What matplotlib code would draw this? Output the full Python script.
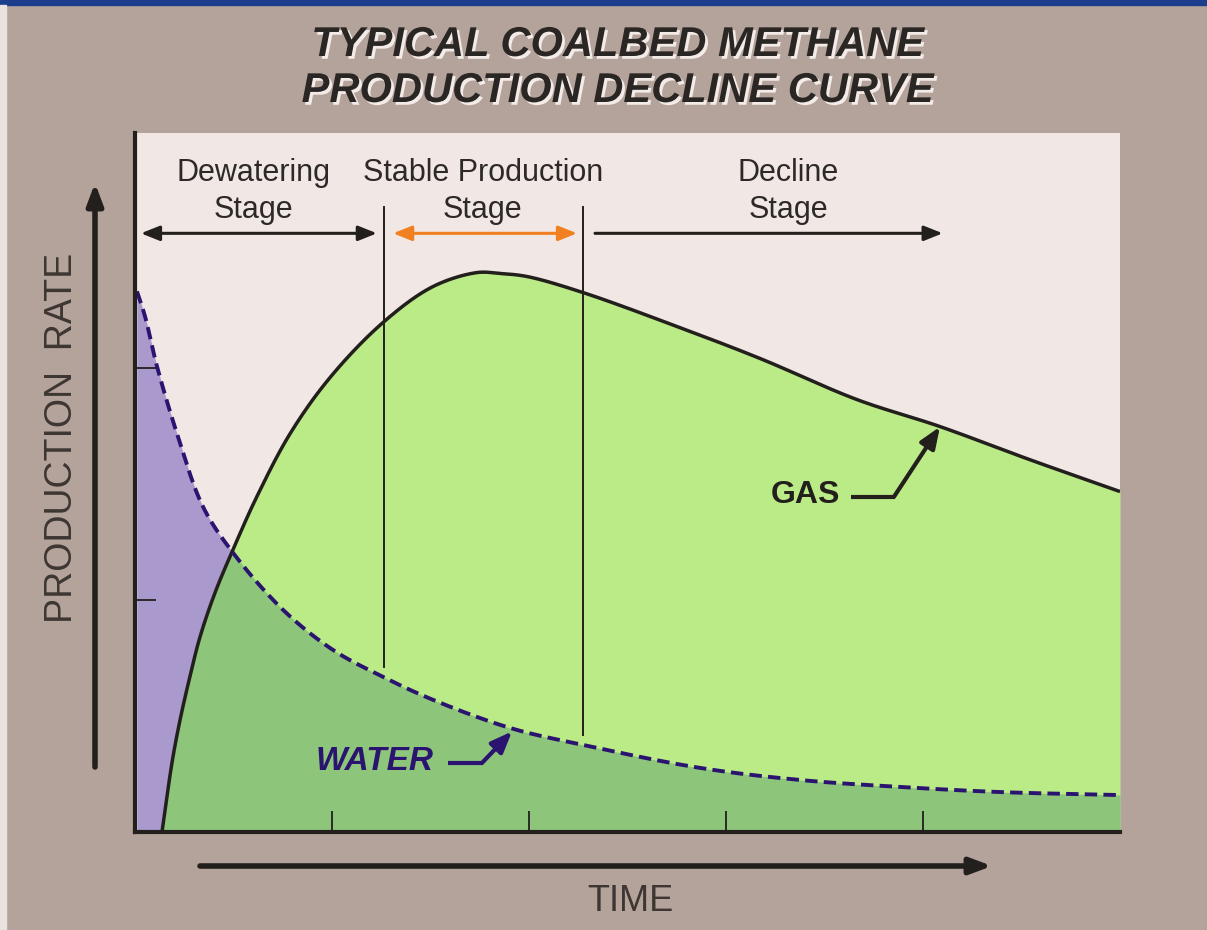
import matplotlib
matplotlib.use("Agg")
import matplotlib.pyplot as plt
import matplotlib.patheffects as pe
from matplotlib.patches import Rectangle
import numpy as np

# ---- data (x = time units, y = rate units) ----
gas_x = [0.137, 0.160, 0.190, 0.228, 0.279, 0.330, 0.406, 0.497, 0.619, 0.787,
         0.990, 1.259, 1.513, 1.736, 1.853, 1.990, 2.274, 2.766, 3.173, 3.665,
         4.086, 4.543, 5.0]
gas_y = [0.0, 0.14, 0.31, 0.48, 0.67, 0.84, 1.03, 1.215, 1.445, 1.715,
         1.957, 2.194, 2.349, 2.409, 2.405, 2.392, 2.323, 2.172, 2.039, 1.862,
         1.746, 1.603, 1.466]
water_x = [0.010, 0.051, 0.112, 0.218, 0.345, 0.497, 0.751, 1.005, 1.259, 1.513,
           1.904, 2.274, 2.868, 3.376, 3.883, 4.391, 5.0]
water_y = [2.328, 2.220, 2.004, 1.703, 1.401, 1.203, 0.957, 0.784, 0.668, 0.569,
           0.448, 0.375, 0.276, 0.224, 0.194, 0.172, 0.159]
stage_bounds = [1.264, 2.274]
stage_labels = ["Dewatering\nStage", "Stable Production\nStage", "Decline\nStage"]
x_ticks = [1, 2, 3, 4]
y_ticks = [1, 2]

# ---- colours ----
BG = "#b4a39b"
PLOT_BG = "#f1e8e5"
PURPLE = "#a999cd"
LGREEN = "#bbeb87"
DGREEN = "#8dc67a"
WATER_C = "#2a1470"
DARK = "#231f1d"
ORANGE = "#f08020"


def smooth_path(xs, ys, sx=197.0, sy=232.0, n=30):
    """Centripetal Catmull-Rom rendering through the read points (drawing only)."""
    P = np.column_stack([np.asarray(xs) * sx, np.asarray(ys) * sy])
    P = np.vstack([2 * P[0] - P[1], P, 2 * P[-1] - P[-2]])
    out = []
    for i in range(1, len(P) - 2):
        p0, p1, p2, p3 = P[i - 1], P[i], P[i + 1], P[i + 2]
        t0 = 0.0
        t1 = t0 + np.linalg.norm(p1 - p0) ** 0.5
        t2 = t1 + np.linalg.norm(p2 - p1) ** 0.5
        t3 = t2 + np.linalg.norm(p3 - p2) ** 0.5
        t = np.linspace(t1, t2, n, endpoint=False)[:, None]
        a1 = (t1 - t) / (t1 - t0) * p0 + (t - t0) / (t1 - t0) * p1
        a2 = (t2 - t) / (t2 - t1) * p1 + (t - t1) / (t2 - t1) * p2
        a3 = (t3 - t) / (t3 - t2) * p2 + (t - t2) / (t3 - t2) * p3
        b1 = (t2 - t) / (t2 - t0) * a1 + (t - t0) / (t2 - t0) * a2
        b2 = (t3 - t) / (t3 - t1) * a2 + (t - t1) / (t3 - t1) * a3
        c = (t2 - t) / (t2 - t1) * b1 + (t - t1) / (t2 - t1) * b2
        out.append(c)
    out.append(P[-2][None, :])
    C = np.vstack(out)
    return C[:, 0] / sx, C[:, 1] / sy


fig = plt.figure(figsize=(12.07, 9.30), dpi=100, facecolor=BG)
fig.patches.append(Rectangle((0, 925), 1207, 5, transform=None, color="#1b3d8c", zorder=0))
fig.patches.append(Rectangle((0, 0), 6, 925, transform=None, color="#e9e3e0", zorder=0))

ax = fig.add_axes([135 / 1207, 98 / 930, 985 / 1207, 699 / 930])
ax.set_facecolor(PLOT_BG)
ax.set_xlim(0, 5)
ax.set_ylim(0, 3.01)

gsx, gsy = smooth_path(gas_x, gas_y)
wsx, wsy = smooth_path(water_x, water_y)

# fills
ax.fill_between(wsx, wsy, 0, color=PURPLE, lw=0, zorder=1)
ax.fill_between(gsx, gsy, 0, color=LGREEN, lw=0, zorder=1.1)
xx = np.linspace(gas_x[0], gas_x[-1], 1500)
low = np.minimum(np.interp(xx, gsx, gsy), np.interp(xx, wsx, wsy))
ax.fill_between(xx, low, 0, color=DGREEN, lw=0, zorder=1.2)

# stage boundary lines
ax.plot([stage_bounds[0]] * 2, [0.711, 2.69], color=DARK, lw=1.4, zorder=2)
ax.plot([stage_bounds[1]] * 2, [0.418, 2.69], color=DARK, lw=1.4, zorder=2)

# curves
ax.plot(gsx, gsy, color=DARK, lw=2.5, zorder=3, solid_capstyle="butt")
ax.plot(wsx, wsy, color=WATER_C, lw=2.8, zorder=3.1, dashes=(3.2, 1.6))

# stage arrows
ya = 2.578
ax.annotate("", xy=(0.03, ya), xytext=(1.228, ya),
            arrowprops=dict(arrowstyle="<|-|>,head_length=0.7,head_width=0.28",
                            color=DARK, lw=2.2, mutation_scale=16, shrinkA=0, shrinkB=0))
ax.annotate("", xy=(1.31, ya), xytext=(2.244, ya),
            arrowprops=dict(arrowstyle="<|-|>,head_length=0.7,head_width=0.28",
                            color=ORANGE, lw=2.2, mutation_scale=16, shrinkA=0, shrinkB=0))
ax.annotate("", xy=(4.10, ya), xytext=(2.335, ya),
            arrowprops=dict(arrowstyle="-|>,head_length=0.7,head_width=0.28",
                            color=DARK, lw=2.2, mutation_scale=16, shrinkA=0, shrinkB=0))

lab_font = dict(family="Liberation Sans", fontsize=22, color="#2d2926",
                ha="center", va="center", linespacing=1.32)
for xl, t in zip([0.599, 1.766, 3.315], stage_labels):
    ax.text(xl, 2.757, t, **lab_font)

# GAS label and leader
ax.text(3.401, 1.453, "GAS", family="Liberation Sans", fontweight="bold",
        fontsize=23, color=DARK, ha="center", va="center")
ax.plot([3.635, 3.858], [1.444, 1.444], color=DARK, lw=3, solid_capstyle="butt", zorder=4)
ax.annotate("", xy=(4.086, 1.745), xytext=(3.853, 1.444),
            arrowprops=dict(arrowstyle="-|>,head_length=0.8,head_width=0.32",
                            color=DARK, lw=3, mutation_scale=16, shrinkA=0, shrinkB=0))

# WATER label and leader
ax.text(1.218, 0.302, "WATER", family="Liberation Sans", fontweight="bold",
        style="italic", fontsize=24, color=WATER_C, ha="center", va="center")
ax.plot([1.589, 1.766], [0.297, 0.297], color=WATER_C, lw=3, solid_capstyle="butt", zorder=4)
ax.annotate("", xy=(1.914, 0.433), xytext=(1.761, 0.297),
            arrowprops=dict(arrowstyle="-|>,head_length=0.8,head_width=0.32",
                            color=WATER_C, lw=3, mutation_scale=16, shrinkA=0, shrinkB=0))

# axes styling
for s in ["top", "right"]:
    ax.spines[s].set_visible(False)
for s in ["left", "bottom"]:
    ax.spines[s].set_linewidth(3)
    ax.spines[s].set_color(DARK)
    ax.spines[s].set_zorder(5)
ax.set_xticks(x_ticks)
ax.set_yticks(y_ticks)
ax.tick_params(direction="in", length=15, width=1.3, color=DARK,
               labelbottom=False, labelleft=False)

# outer arrows (figure pixels)
fig_ax = fig.add_axes([0, 0, 1, 1], facecolor="none")
fig_ax.set_xlim(0, 1207)
fig_ax.set_ylim(0, 930)
fig_ax.axis("off")
fig_ax.annotate("", xy=(95, 747), xytext=(95, 163),
                arrowprops=dict(arrowstyle="-|>,head_length=0.8,head_width=0.3",
                                color=DARK, lw=4, mutation_scale=16, shrinkA=0, shrinkB=0))
fig_ax.annotate("", xy=(992, 64), xytext=(200, 64),
                arrowprops=dict(arrowstyle="-|>,head_length=0.8,head_width=0.3",
                                color=DARK, lw=4, mutation_scale=16, shrinkA=0, shrinkB=0))

fig_ax.text(62, 492, "PRODUCTION  RATE", family="Liberation Sans", fontsize=27,
            color="#3d3633", rotation=90, ha="center", va="center")
fig_ax.text(630, 29, "TIME", family="Liberation Sans", fontsize=26,
            color="#3d3633", ha="center", va="center")

title_kw = dict(family="Liberation Sans", fontweight="bold", style="italic",
                fontsize=30, color="#2a2624", ha="center", va="center",
                path_effects=[pe.withSimplePatchShadow(offset=(2, -2),
                                                       shadow_rgbFace="#f3ebe7", alpha=1.0)])
fig_ax.text(617, 885, "TYPICAL COALBED METHANE", **title_kw)
fig_ax.text(617, 839, "PRODUCTION DECLINE CURVE", **title_kw)

fig.savefig("out.png", dpi=100, facecolor=BG)
